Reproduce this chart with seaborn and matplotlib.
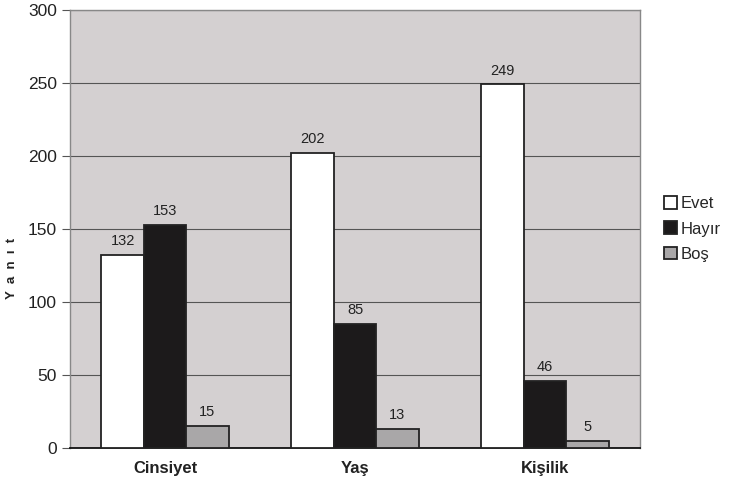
import pandas as pd
import seaborn as sns
import matplotlib.pyplot as plt

categories = ["Cinsiyet", "Yaş", "Kişilik"]
evet = [132, 202, 249]
hayir = [153, 85, 46]
bos = [15, 13, 5]
series = ["Evet", "Hayır", "Boş"]
colors = ["#ffffff", "#1c1a1b", "#a9a7a8"]

df = pd.DataFrame({
    "Kategori": categories * 3,
    "Cevap": [s for s in series for _ in categories],
    "Yanit": evet + hayir + bos,
})

sns.set_style("white")
plt.rcParams["font.family"] = ["Liberation Sans", "DejaVu Sans"]

fig = plt.figure(figsize=(7.31, 4.94), dpi=100)
ax = fig.add_axes([70 / 731, 1 - 448 / 494, 570 / 731, 438 / 494])
ax.set_facecolor("#d4d0d1")

sns.barplot(data=df, x="Kategori", y="Yanit", hue="Cevap", order=categories,
            hue_order=series, palette=colors, width=0.67, gap=0,
            edgecolor="#222222", linewidth=1.3, ax=ax, zorder=3)

for cont in ax.containers:
    ax.bar_label(cont, padding=5, fontsize=10.5, color="#222222")

ax.set_ylim(0, 300)
ax.set_yticks(range(0, 301, 50))
ax.set_xlim(-0.5, 2.5)
ax.yaxis.grid(True, color="#555555", linewidth=0.8, zorder=0)
ax.set_axisbelow(True)
for s in ["top", "right", "left"]:
    ax.spines[s].set_color("#888888")
    ax.spines[s].set_linewidth(1.0)
ax.spines["bottom"].set_color("#111111")
ax.spines["bottom"].set_linewidth(1.3)

ax.tick_params(axis="y", length=6, color="#555555", labelsize=12.5, left=True)
ax.tick_params(axis="x", length=0, labelsize=12, pad=9)
for lab in ax.get_xticklabels():
    lab.set_fontweight("bold")
    lab.set_color("#222222")
for lab in ax.get_yticklabels():
    lab.set_color("#222222")

ax.set_xlabel("")
ax.set_ylabel("Y  a  n  ı  t", fontsize=9.5, fontweight="bold", color="#222222")
ax.yaxis.set_label_coords(-0.092, 0.41)

leg = ax.legend(loc="center left", bbox_to_anchor=(1.03, 0.5), frameon=False,
                fontsize=12, handlelength=0.8, handleheight=0.8,
                handletextpad=0.2, labelspacing=0.6, borderaxespad=0)

fig.savefig("out.png", dpi=100)
